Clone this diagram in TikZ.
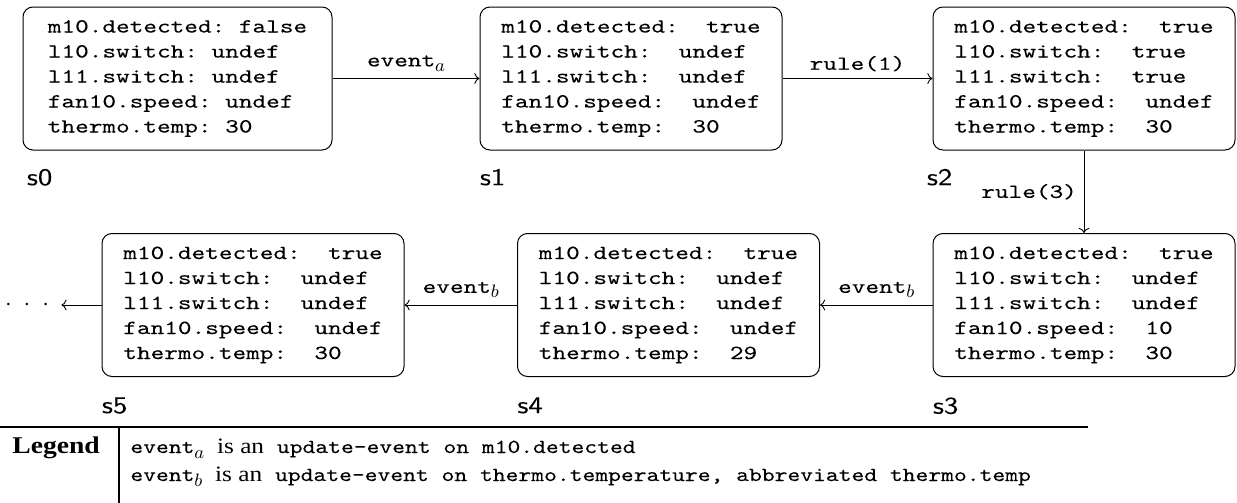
\documentclass[tikz,border=0pt]{standalone}
\usepackage{fontspec}
\usetikzlibrary{arrows.meta}
\newfontfamily\stt[FakeStretch=1.3,FakeBold=0.1]{lmmono10-regular.otf}
\newfontfamily\ltt[FakeStretch=1.22,FakeBold=0.1]{lmmono10-regular.otf}
\newfontfamily\ssf[FakeStretch=1.2,FakeBold=0.1]{lmsans10-regular.otf}
\newfontfamily\legserif[FakeStretch=1.15]{Liberation Serif}
\newcommand\evsub[1]{\raisebox{-0.25em}{\fontsize{9.5}{10}\selectfont$#1$}}
\tikzset{
  state/.style={draw, rounded corners=5pt, line width=0.5pt, align=left,
    font=\stt\fontsize{10}{12.5}\selectfont,
    minimum width=151pt, minimum height=71.5pt, inner sep=0pt},
  slabel/.style={font=\ssf\fontsize{12}{14}\selectfont, anchor=north west, inner sep=0pt},
  trans/.style={->, line width=0.45pt},
  tlabel/.style={font=\stt\fontsize{10}{12}\selectfont},
  legtext/.style={anchor=base west, inner sep=0pt, font=\ltt\fontsize{10}{12}\selectfont},
}
\begin{document}
\begin{tikzpicture}[x=0.5pt,y=-0.5pt]
\useasboundingbox (0,0) rectangle (1237,503);
% states
\node[state, minimum width=154.5pt] (s0) at (177.5,78.5)
  {m10.detected:\ false\\l10.switch:\ undef\\l11.switch:\ undef\\fan10.speed:\ undef\\thermo.temp:\ 30};
\node[state] (s1) at (631,78.5)
  {m10.detected:\ \ true\\l10.switch:\ \ undef\\l11.switch:\ \ undef\\fan10.speed:\ \ undef\\thermo.temp:\ \ 30};
\node[state] (s2) at (1084,78.5)
  {m10.detected:\ \ true\\l10.switch:\ \ true\\l11.switch:\ \ true\\fan10.speed:\ \ undef\\thermo.temp:\ \ 30};
\node[state] (s3) at (1084,305)
  {m10.detected:\ \ true\\l10.switch:\ \ undef\\l11.switch:\ \ undef\\fan10.speed:\ \ 10\\thermo.temp:\ \ 30};
\node[state] (s4) at (668.5,305)
  {m10.detected:\ \ true\\l10.switch:\ \ undef\\l11.switch:\ \ undef\\fan10.speed:\ \ undef\\thermo.temp:\ \ 29};
\node[state] (s5) at (253,305)
  {m10.detected:\ \ true\\l10.switch:\ \ undef\\l11.switch:\ \ undef\\fan10.speed:\ \ undef\\thermo.temp:\ \ 30};
% state labels
\node[slabel] (l0) at ([xshift=2pt,yshift=-9pt]s0.south west) {s0};
\node[slabel] (l1) at ([yshift=-9pt]s1.south west) {s1};
\node[slabel] (l2) at ([xshift=-3pt,yshift=-9pt]s2.south west) {s2};
\node[slabel] (l3) at ([yshift=-10pt]s3.south west) {s3};
\node[slabel] (l4) at ([yshift=-10pt]s4.south west) {s4};
\node[slabel] (l5) at ([yshift=-10pt]s5.south west) {s5};
% continuation
\node[inner xsep=6pt, inner ysep=0pt, font=\fontsize{12}{14}\selectfont] (dots) at (27,305) {$\cdot\;\cdot\;\cdot$};
% transitions
\draw[trans] (s0) -- node[above, tlabel] {event\evsub{a}} (s1);
\draw[trans] (s1) -- node[above, tlabel] {rule(1)} (s2);
\draw[trans] (s2) -- node[left, tlabel] {rule(3)} (s3);
\draw[trans] (s3) -- node[above, tlabel] {event\evsub{b}} (s4);
\draw[trans] (s4) -- node[above, tlabel] {event\evsub{b}} (s5);
\draw[trans] (s5) -- (dots);
% legend
\coordinate (hl) at (0,427);
\coordinate (hr) at (1088,427);
\coordinate (vt) at (119,427);
\coordinate (vb) at (119,503);
\draw[line width=1pt] (hl) -- (hr);
\draw[line width=0.6pt] (vt) -- (vb);
\node[anchor=base west, inner sep=0pt, font=\legserif\bfseries\fontsize{12}{14}\selectfont] (leg) at (12,453) {Legend};
\node[legtext] (leg1) at (130,453) {event\evsub{a} {\legserif\fontsize{11}{12}\selectfont is an} update-event on m10.detected};
\node[legtext] (leg2) at (130,481) {event\evsub{b} {\legserif\fontsize{11}{12}\selectfont is an} update-event on thermo.temperature, abbreviated thermo.temp};
\end{tikzpicture}
\end{document}
